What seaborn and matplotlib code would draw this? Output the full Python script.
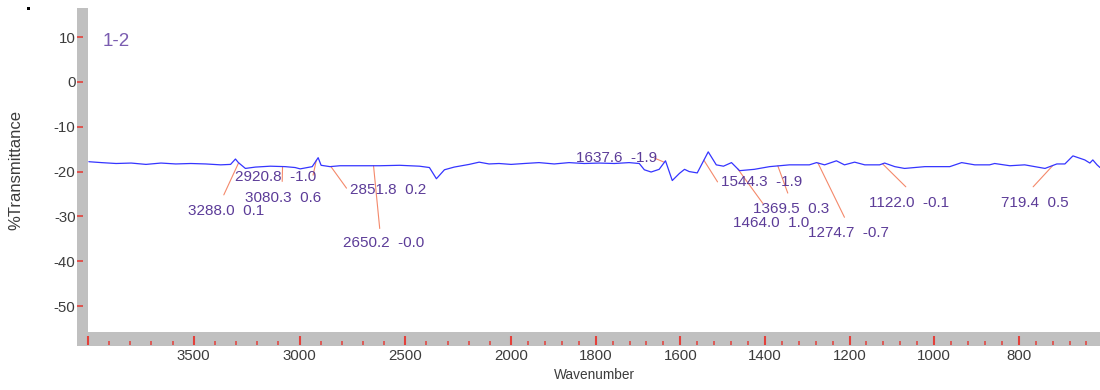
import numpy as np
import pandas as pd
import matplotlib
matplotlib.use("Agg")
import matplotlib.pyplot as plt
import seaborn as sns
from matplotlib.patches import Rectangle
from matplotlib.ticker import FixedLocator, FixedFormatter, NullFormatter

# ---------------- data ----------------
wavenumber = [3996, 3937, 3867, 3796, 3726, 3655, 3585, 3514, 3444, 3373, 3326, 3303,
              3289, 3256, 3209, 3138, 3068, 3021, 2997, 2940, 2912, 2898, 2856, 2809,
              2715, 2621, 2527, 2433, 2386, 2353, 2315, 2269, 2198, 2151, 2104, 2057,
              2000, 1969, 1934, 1898, 1863, 1827, 1792, 1756, 1721, 1697, 1685, 1669,
              1650, 1635, 1619, 1602, 1590, 1579, 1560, 1534, 1515, 1498, 1479, 1460,
              1425, 1389, 1342, 1295, 1278, 1259, 1231, 1212, 1188, 1164, 1129, 1117,
              1093, 1070, 1022, 963, 935, 904, 869, 857, 821, 786, 738, 710, 691, 672,
              644, 632, 625, 615, 608]
transmittance = [-17.8, -18.0, -18.2, -18.1, -18.4, -18.1, -18.3, -18.2, -18.3, -18.5, -18.4, -17.2,
                 -18.0, -19.3, -19.0, -18.8, -18.9, -19.1, -19.4, -18.9, -16.9, -18.6, -18.9, -18.7,
                 -18.7, -18.7, -18.6, -18.8, -19.1, -21.6, -19.6, -19.0, -18.4, -17.9, -18.3, -18.2,
                 -18.4, -18.2, -18.0, -18.3, -18.0, -18.2, -18.1, -18.2, -18.0, -18.2, -19.6, -20.1,
                 -19.5, -17.6, -22.0, -20.4, -19.5, -20.0, -20.3, -15.6, -18.5, -18.8, -18.0, -19.8,
                 -19.5, -18.9, -18.5, -18.5, -18.0, -18.5, -17.6, -18.5, -17.9, -18.5, -18.5, -18.1,
                 -18.9, -19.3, -18.9, -18.9, -18.0, -18.5, -18.5, -18.2, -18.7, -18.5, -19.3, -18.3,
                 -18.3, -16.5, -17.4, -18.1, -17.4, -18.5, -19.1]

peak_wn = [3288.0, 3080.3, 2920.8, 2851.8, 2650.2, 1637.6, 1544.3, 1464.0, 1369.5, 1274.7, 1122.0, 719.4]
peak_val = [0.1, 0.6, -1.0, 0.2, -0.0, -1.9, -1.9, 1.0, 0.3, -0.7, -0.1, 0.5]

major_ticks = [4000, 3500, 3000, 2500, 2000, 1800, 1600, 1400, 1200, 1000, 800]
major_labels = ["", "3500", "3000", "2500", "2000", "1800", "1600", "1400", "1200", "1000", "800"]
y_ticks = [-50, -40, -30, -20, -10, 0, 10]

sample_name = "1-2"

# ---------------- layout (label positions, leader ends) ----------------
text_pos = [(3528, -28.8), (3256, -25.9), (3303, -21.3), (2762, -24.1), (2794, -36.0),
            (1847, -17.0), (1504, -22.3), (1476, -31.4), (1429, -28.4), (1299, -33.8),
            (1153, -27.1), (841, -27.1)]
leader_end = [(3358, -25.2), (3082, -22.2), (2936, -20.8), (2778, -23.7), (2621, -32.7),
              (1661, -17.0), (1512, -22.3), (1405, -27.1), (1346, -24.8), (1212, -30.2),
              (1067, -23.4), (766, -23.4)]

minor_ticks = [w for w in range(3900, 2000, -100) if w % 500 != 0] + \
              [w for w in range(1960, 600, -40) if w % 200 != 0]

# ---------------- style ----------------
sns.set_style("white")
FONT = ["Liberation Sans", "DejaVu Sans"]
plt.rcParams["font.family"] = FONT
plt.rcParams["axes.unicode_minus"] = False

TICK_RED = "#e3403a"
LABEL_GREY = "#3c3c3c"
PURPLE = "#5c3c98"
LEADER = "#f4896b"

df = pd.DataFrame({"wavenumber": wavenumber, "transmittance": transmittance})

fig = plt.figure(figsize=(11, 3.9), dpi=100)
ax = fig.add_axes([88 / 1100, 58 / 390, 1012 / 1100, 324 / 390])

sns.lineplot(data=df, x="wavenumber", y="transmittance", ax=ax, color="#3535ff",
             linewidth=0.9, estimator=None, sort=False, zorder=3)


def fwd(w):
    w = np.asarray(w, dtype=float)
    return np.where(w > 2000, 2000 + (w - 2000) * 0.5, w)


def inv(u):
    u = np.asarray(u, dtype=float)
    return np.where(u > 2000, 2000 + (u - 2000) * 2.0, u)


ax.set_xscale("function", functions=(fwd, inv))
ax.set_xlim(4000, 608)
ax.set_ylim(-55.8, 16.5)

# annotations
order = np.argsort(wavenumber)
wn_sorted = np.array(wavenumber)[order]
t_sorted = np.array(transmittance)[order]
for wn, val, (tx, ty), (lx, ly) in zip(peak_wn, peak_val, text_pos, leader_end):
    yc = float(np.interp(wn, wn_sorted, t_sorted))
    ax.plot([wn, lx], [yc, ly], color=LEADER, linewidth=0.8, zorder=2)
    ax.text(tx, ty, f"{wn:.1f}  {val:.1f}", color=PURPLE, fontsize=11,
            ha="left", va="center", zorder=4)

ax.text(15 / 1012, (332 - 42) / 324, sample_name, transform=ax.transAxes,
        color="#7a5cb0", fontsize=13.5, ha="left", va="center")

# ticks
ax.xaxis.set_major_locator(FixedLocator(major_ticks))
ax.xaxis.set_major_formatter(FixedFormatter(major_labels))
ax.xaxis.set_minor_locator(FixedLocator(minor_ticks))
ax.xaxis.set_minor_formatter(NullFormatter())
ax.set_yticks(y_ticks)

for s in ["top", "right"]:
    ax.spines[s].set_visible(False)
ax.spines["left"].set_position(("outward", 11 * 0.72))
ax.spines["bottom"].set_position(("outward", 13 * 0.72))
ax.spines["left"].set_color("none")
ax.spines["bottom"].set_color("none")

ax.tick_params(axis="y", left=True, direction="in", length=4.3, width=1.2,
               color=TICK_RED, labelcolor=LABEL_GREY, labelsize=10.8, pad=1)
ax.tick_params(axis="x", which="major", bottom=True, direction="in", length=6.2, width=1.5,
               color=TICK_RED, labelcolor=LABEL_GREY, labelsize=10.8, pad=3)
ax.tick_params(axis="x", which="minor", bottom=True, direction="in", length=2.6, width=1.1,
               color=TICK_RED)

ax.set_xlabel("Wavenumber", fontsize=9.8, color=LABEL_GREY)
ax.xaxis.set_label_coords(0.5, -0.112)
ax.set_ylabel("%Transmittance", fontsize=12, color=LABEL_GREY)
ax.yaxis.set_label_coords(-0.064, 0.5)

# grey frame bands
fig.add_artist(Rectangle((77 / 1100, 44 / 390), 11 / 1100, 338 / 390, transform=fig.transFigure,
                         facecolor="#c0c0c0", edgecolor="none", zorder=-1))
fig.add_artist(Rectangle((77 / 1100, 44 / 390), 1023 / 1100, 14 / 390, transform=fig.transFigure,
                         facecolor="#c0c0c0", edgecolor="none", zorder=-1))
fig.add_artist(Rectangle((27 / 1100, 380 / 390), 3 / 1100, 3 / 390, transform=fig.transFigure,
                         facecolor="black", edgecolor="none"))

fig.savefig("out.png", dpi=100)
